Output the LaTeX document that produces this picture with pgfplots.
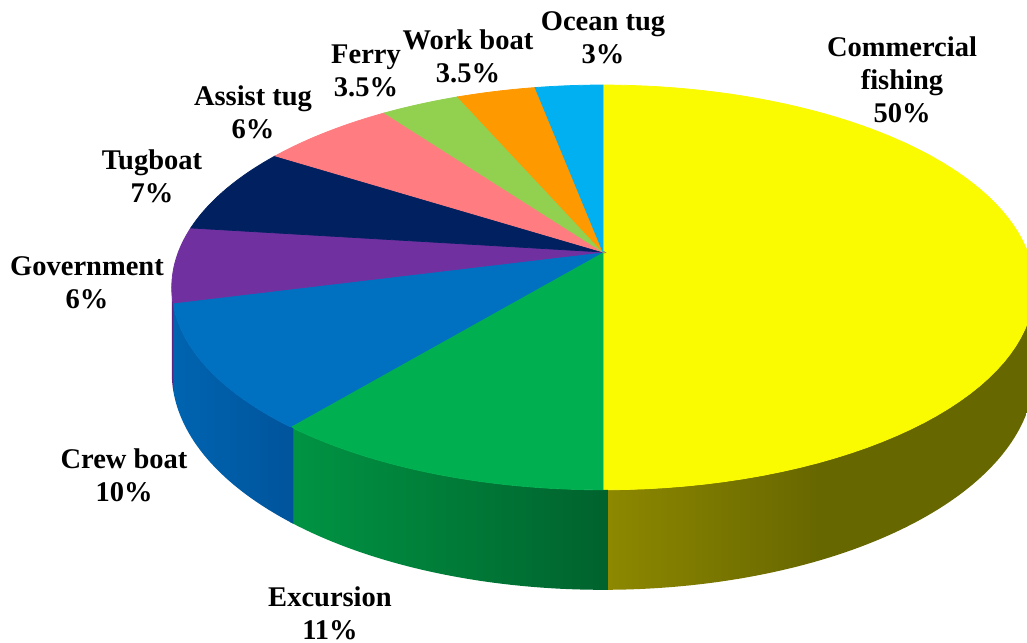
\documentclass[border=0pt]{standalone}
\usepackage{pgfplots}
\pgfplotsset{compat=1.18}
\usepackage{pgfplotstable}
\usepackage{fontspec}
\setmainfont{Liberation Serif}
% slice colours (top face)
\definecolor{slice0}{RGB}{250,250,0}
\definecolor{slice1}{RGB}{0,176,80}
\definecolor{slice2}{RGB}{0,112,192}
\definecolor{slice3}{RGB}{112,48,160}
\definecolor{slice4}{RGB}{0,32,96}
\definecolor{slice5}{RGB}{255,124,128}
\definecolor{slice6}{RGB}{146,208,80}
\definecolor{slice7}{RGB}{255,153,0}
\definecolor{slice8}{RGB}{0,176,240}
% side walls (left / middle / right of gradient)
\definecolor{wallL0}{RGB}{142,137,0}
\definecolor{wallM0}{RGB}{103,103,0}
\definecolor{wallR0}{RGB}{103,103,0}
\definecolor{wallL1}{RGB}{0,148,68}
\definecolor{wallM1}{RGB}{0,124,56}
\definecolor{wallR1}{RGB}{0,98,45}
\definecolor{wallL2}{RGB}{0,100,176}
\definecolor{wallM2}{RGB}{0,92,166}
\definecolor{wallR2}{RGB}{0,84,156}
\definecolor{wallL3}{RGB}{90,38,130}
\definecolor{wallM3}{RGB}{90,38,130}
\definecolor{wallR3}{RGB}{90,38,130}
\colorlet{wallL4}{slice4}\colorlet{wallM4}{slice4}\colorlet{wallR4}{slice4}
\colorlet{wallL5}{slice5}\colorlet{wallM5}{slice5}\colorlet{wallR5}{slice5}
\colorlet{wallL6}{slice6}\colorlet{wallM6}{slice6}\colorlet{wallR6}{slice6}
\colorlet{wallL7}{slice7}\colorlet{wallM7}{slice7}\colorlet{wallR7}{slice7}
\colorlet{wallL8}{slice8}\colorlet{wallM8}{slice8}\colorlet{wallR8}{slice8}

\pgfplotstableread[col sep=comma]{
name,value
Commercial fishing,50
Excursion,11
Crew boat,10
Government,6
Tugboat,7
Assist tug,6
Ferry,3.5
Work boat,3.5
Ocean tug,3
}\piedata

\begin{document}
\begin{tikzpicture}
\begin{axis}[
  scale only axis,
  width=410.8pt, height=257.2pt,
  xmin=0, xmax=1027, ymin=0, ymax=643,
  y dir=reverse,
  axis lines=none,
  clip=true,
]
\def\cum{0}
\pgfplotsforeachungrouped \i in {0,...,8}{%
  \pgfplotstablegetelem{\i}{value}\of\piedata
  \pgfmathsetmacro\a{\cum}%
  \pgfmathsetmacro\b{\cum+\pgfplotsretval}%
  \xdef\cum{\b}%
  \pgfmathsetmacro\va{max(\a-0.15,25)}%
  \pgfmathsetmacro\vb{min(\b,72.3)}%
  \pgfmathsetmacro\ve{2*\vb-\va+2}%
  \ifdim\vb pt>\va pt
    % top rim forward, vertical drop at the end, bottom rim back
    \edef\cmd{\noexpand\addplot[draw=none, left color=wallL\i, right color=wallR\i, middle color=wallM\i, domain=\va:\ve, samples=241]
      ({603+424.6*sin(3.6*min(x,\vb,2*\vb+2-x))/(1+0.175*cos(3.6*min(x,\vb,2*\vb+2-x)))},
       {252+(-196.2*cos(3.6*min(x,\vb,2*\vb+2-x))+82.5*min(1,max(0,x-\vb-0.5)))/(1+0.175*cos(3.6*min(x,\vb,2*\vb+2-x)))}) -- cycle;}%
    \cmd
  \fi
  \edef\cmd{\noexpand\addplot[fill=slice\i, draw=slice\i, line width=0.3pt, domain=\a:\b, samples=80]
    ({603+424.6*sin(3.6*x)/(1+0.175*cos(3.6*x))},
     {252-196.2*cos(3.6*x)/(1+0.175*cos(3.6*x))}) -- (axis cs:603,252) -- cycle;}%
  \cmd
}
\tikzset{lab/.style={align=center, font=\fontsize{11.4}{13.2}\selectfont\bfseries, inner sep=0pt}}
\node[lab] at (axis cs:902,80) {Commercial\\fishing\\50\%};
\node[lab] at (axis cs:603,38) {Ocean tug\\3\%};
\node[lab] at (axis cs:468,56) {Work boat\\3.5\%};
\node[lab] at (axis cs:366,71) {Ferry\\3.5\%};
\node[lab] at (axis cs:253,112) {Assist tug\\6\%};
\node[lab] at (axis cs:152,176) {Tugboat\\7\%};
\node[lab] at (axis cs:87,283) {Government\\6\%};
\node[lab] at (axis cs:124,475) {Crew boat\\10\%};
\node[lab] at (axis cs:330,613) {Excursion\\11\%};
\end{axis}
\pgfresetboundingbox
\path[use as bounding box] (current axis.south west) rectangle (current axis.north east);
\end{tikzpicture}
\end{document}
